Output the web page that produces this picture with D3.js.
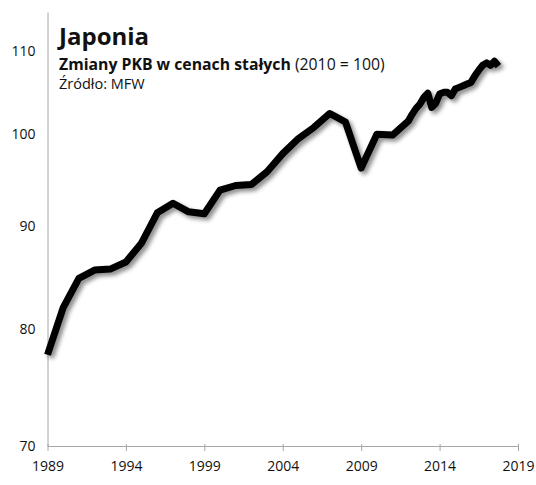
<!DOCTYPE html>
<html lang="pl">
<head>
<meta charset="utf-8">
<title>Japonia – Zmiany PKB w cenach stałych</title>
<script src="https://cdn.jsdelivr.net/npm/d3@7"></script>
<style>
  html, body { margin: 0; padding: 0; background: #fff; }
  #chart { width: 536px; height: 485px; }
  text { font-family: "Open Sans", "Noto Sans", sans-serif; fill: #111; }
</style>
</head>
<body>
<div id="chart"></div>
<script>
// dane roczne (1989–2011) i kwartalne (od 2012), indeks 2010 = 100
const years = [1989, 1990, 1991, 1992, 1993, 1994, 1995, 1996, 1997, 1998, 1999,
  2000, 2001, 2002, 2003, 2004, 2005, 2006, 2007, 2008, 2009, 2010, 2011];
const yearValues = [77.7, 82.0, 84.8, 85.6, 85.7, 86.4, 88.3, 91.4, 92.4, 91.5, 91.3,
  93.8, 94.3, 94.4, 95.8, 97.8, 99.5, 100.8, 102.4, 101.4, 96.2, 100.0, 99.9];
const quarters = [2012.0, 2012.25, 2012.5, 2012.75, 2013.0, 2013.25, 2013.5, 2013.75,
  2014.0, 2014.25, 2014.5, 2014.75, 2015.0, 2015.25, 2015.5, 2015.75,
  2016.0, 2016.25, 2016.5, 2016.75, 2017.0, 2017.25, 2017.5, 2017.75];
const quarterValues = [101.5, 102.3, 103.0, 103.5, 104.3, 104.8, 103.1, 103.6,
  104.7, 104.9, 104.9, 104.5, 105.3, 105.5, 105.7, 105.9,
  106.1, 106.9, 107.6, 108.2, 108.5, 108.2, 108.7, 108.1];
const xTicks = [1989, 1994, 1999, 2004, 2009, 2014, 2019];
const yTicks = [70, 80, 90, 100, 110];

(function () {
  const W = 536, H = 485;
  const svg = d3.select("#chart").append("svg")
    .attr("width", W).attr("height", H).attr("viewBox", `0 0 ${W} ${H}`);

  const x = d3.scaleLinear().domain([1989, 2019]).range([47.5, 518]);
  const y = d3.scaleLog().domain([70, 115]).range([446, 12]);

  const data = years.map((t, i) => ({ t, v: yearValues[i] }))
    .concat(quarters.map((t, i) => ({ t, v: quarterValues[i] })));

  // cień pod linią
  const defs = svg.append("defs");
  defs.append("filter").attr("id", "shadow")
    .attr("x", "-10%").attr("y", "-10%").attr("width", "120%").attr("height", "120%")
    .append("feDropShadow")
    .attr("dx", 3).attr("dy", 3).attr("stdDeviation", 2.2)
    .attr("flood-color", "#000").attr("flood-opacity", 0.45);

  // oś X
  const xAxis = svg.append("g")
    .attr("transform", `translate(0,${y(70)})`)
    .call(d3.axisBottom(x).tickValues(xTicks).tickFormat(d3.format("d"))
      .tickSizeInner(5).tickSizeOuter(0).tickPadding(10));
  xAxis.select(".domain").attr("stroke", "#a6a6a6").attr("stroke-width", 1);
  xAxis.selectAll(".tick line").attr("stroke", "#a6a6a6").attr("y1", -2);
  xAxis.selectAll(".tick text").attr("font-size", 14).attr("fill", "#111")
    .style("font-family", "'Open Sans', sans-serif");

  // oś Y (log)
  const yAxis = svg.append("g")
    .attr("transform", `translate(${x(1989)},0)`)
    .call(d3.axisLeft(y).tickValues(yTicks).tickFormat(d3.format("d"))
      .tickSize(0).tickPadding(12));
  yAxis.select(".domain").attr("stroke", "#a6a6a6").attr("stroke-width", 1);
  yAxis.selectAll(".tick text").attr("font-size", 14).attr("fill", "#111")
    .style("font-family", "'Open Sans', sans-serif");

  // linia PKB
  svg.append("path")
    .datum(data)
    .attr("fill", "none")
    .attr("stroke", "#000")
    .attr("stroke-width", 7)
    .attr("stroke-linejoin", "round")
    .attr("filter", "url(#shadow)")
    .attr("d", d3.line().x(d => x(d.t)).y(d => y(d.v)));

  // tytuły
  svg.append("text").attr("x", 59).attr("y", 45)
    .attr("font-size", 24).attr("font-weight", 700).text("Japonia");

  const sub = svg.append("text").attr("x", 59).attr("y", 70).attr("font-size", 15.8);
  sub.append("tspan").attr("font-weight", 700).text("Zmiany PKB w cenach stałych");
  sub.append("tspan").text(" (2010 = 100)");

  svg.append("text").attr("x", 59).attr("y", 89).attr("font-size", 14.5)
    .text("Źródło: MFW");
})();
</script>
</body>
</html>
